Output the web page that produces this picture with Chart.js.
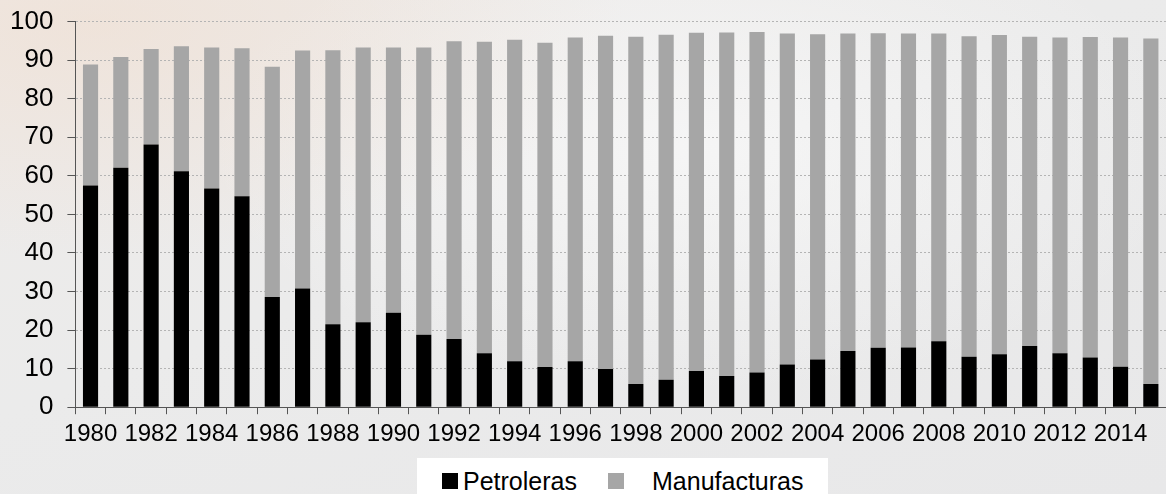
<!DOCTYPE html>
<html>
<head>
<meta charset="utf-8">
<script src="https://cdn.jsdelivr.net/npm/chart.js@4"></script>
<style>
  html, body { margin: 0; padding: 0; }
  body {
    width: 1166px; height: 494px; overflow: hidden;
    font-family: "Liberation Sans", Arial, sans-serif;
    background:
      radial-gradient(ellipse at 8% 5%, rgba(240,222,208,0.6) 0%, rgba(240,222,208,0) 35%),
      radial-gradient(ellipse at 60% 30%, rgba(248,248,248,0.8) 0%, rgba(248,248,248,0) 50%),
      linear-gradient(160deg, #eeebe9 0%, #ebebeb 45%, #e8e8e9 100%);
  }
  #wrap { position: relative; width: 1166px; height: 494px; overflow: hidden; }
  #chartBox { position: absolute; left: -6px; top: -8px; width: 1172px; height: 463px; }
  #legend {
    position: absolute; left: 417px; top: 458px; width: 411px; height: 40px;
    background: #fff; font-size: 25px; color: #000;
  }
  #legend .item { position: absolute; top: 3px; height: 40px; display: flex; align-items: center; }
  #legend .box { width: 16px; height: 16px; display: inline-block; }
</style>
</head>
<body>
<div id="wrap">
  <div id="chartBox"><canvas id="chart"></canvas></div>
  <div id="legend"></div>
</div>
<script>
// Datos (porcentaje de exportaciones)
const years = [];
for (let y = 1980; y <= 2015; y++) years.push(String(y));

const petroleras = [57.5, 62.1, 68.1, 61.2, 56.7, 54.7, 28.6, 30.8, 21.5, 22.0,
  24.5, 18.8, 17.7, 14.0, 11.9, 10.4, 11.9, 9.9, 6.0, 7.1,
  9.4, 8.1, 9.0, 11.1, 12.4, 14.6, 15.4, 15.5, 17.1, 13.1,
  13.7, 15.9, 14.0, 12.9, 10.5, 6.0];

const totales = [88.9, 90.8, 92.9, 93.6, 93.3, 93.1, 88.3, 92.5, 92.6, 93.3,
  93.3, 93.3, 94.9, 94.8, 95.3, 94.5, 95.9, 96.3, 96.1, 96.6,
  97.1, 97.2, 97.3, 96.9, 96.7, 96.9, 97.0, 96.9, 96.9, 96.2,
  96.5, 96.1, 95.9, 96.0, 95.9, 95.6];

const manufacturas = totales.map((t, i) => +(t - petroleras[i]).toFixed(1));

const yTicks = [0, 10, 20, 30, 40, 50, 60, 70, 80, 90, 100];

const series = [
  { label: 'Petroleras', data: petroleras, color: '#000000' },
  { label: 'Manufacturas', data: manufacturas, color: '#a6a6a6' }
];

const axisColor = '#555555';
const fontFamily = '"Liberation Sans", Arial, sans-serif';

new Chart(document.getElementById('chart'), {
  type: 'bar',
  data: {
    labels: years,
    datasets: series.map(s => ({
      label: s.label,
      data: s.data,
      backgroundColor: s.color,
      borderWidth: 0,
      categoryPercentage: 1,
      barPercentage: 0.5
    }))
  },
  options: {
    responsive: true,
    maintainAspectRatio: false,
    animation: false,
    layout: { padding: { left: 2, right: 0, top: 2, bottom: 0 } },
    plugins: { legend: { display: false }, tooltip: { enabled: false } },
    scales: {
      x: {
        stacked: true,
        grid: { display: true, drawOnChartArea: false, drawTicks: true, tickLength: 7, tickColor: axisColor, offset: true },
        border: { color: axisColor, width: 1 },
        ticks: {
          autoSkip: false, maxRotation: 0, padding: 6, color: '#000',
          font: { family: fontFamily, size: 24 },
          callback: (v, i) => (i % 2 === 0 ? years[i] : '')
        }
      },
      y: {
        stacked: true,
        min: 0, max: 100,
        afterBuildTicks: s => { s.ticks = yTicks.map(v => ({ value: v })); },
        grid: { color: '#b4b4b4', tickColor: axisColor, tickLength: 8, tickBorderDash: [], lineWidth: 1 },
        // en v4 border.dash puntea las lineas de cuadricula, no el eje
        border: { color: axisColor, width: 1, dash: [2, 2] },
        ticks: { padding: 14, color: '#000', font: { family: fontFamily, size: 26 } }
      }
    }
  }
});

// Leyenda a mano para ubicarla como en el original
const legend = document.getElementById('legend');
const pos = [{ box: 25, text: 46 }, { box: 191, text: 235 }];
series.forEach((s, i) => {
  const b = document.createElement('div');
  b.className = 'item'; b.style.left = pos[i].box + 'px';
  b.innerHTML = `<span class="box" style="background:${s.color}"></span>`;
  legend.appendChild(b);
  const t = document.createElement('div');
  t.className = 'item'; t.style.left = pos[i].text + 'px';
  t.textContent = s.label;
  legend.appendChild(t);
});
</script>
</body>
</html>
